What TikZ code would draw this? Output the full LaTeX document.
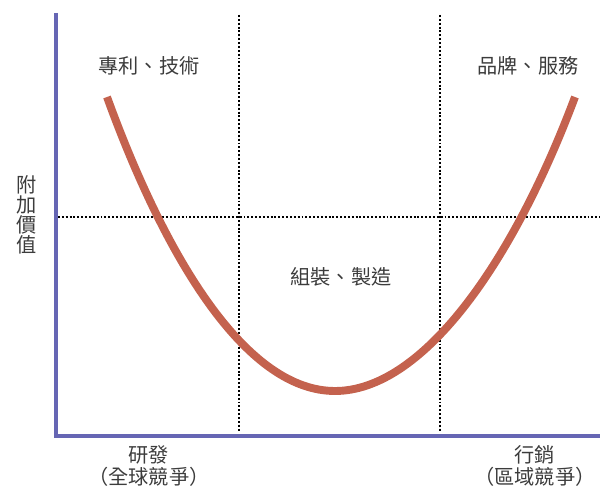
\documentclass[tikz,border=0pt]{standalone}
\usepackage{fontspec}
\usepackage{xcolor}
\usepackage{tikz}
\usetikzlibrary{positioning,calc}
\newfontfamily\cjk{Noto Sans CJK TC}
\definecolor{axisblue}{RGB}{102,102,180}
\definecolor{curvered}{RGB}{196,98,78}
\definecolor{textgray}{RGB}{60,60,60}

\begin{document}
\begin{tikzpicture}[x=0.02cm, y=-0.02cm,
		axis/.style={line width=2.3pt, draw=axisblue},
		divider/.style={line width=1.2pt, dash pattern=on 1.1pt off 1.1pt},
		lbl/.style={text=textgray, font=\cjk\fontsize{11.5}{13}\selectfont, inner sep=0pt, align=center}]
		\useasboundingbox (0,0) rectangle (600,490);

		\coordinate (top) at (56,13);
		\coordinate (origin) at (56,436);
		\coordinate (right) at (600,436);
		\coordinate (l1) at (239,15);
		\coordinate (l2) at (239,432);
		\coordinate (r1) at (440,15);
		\coordinate (r2) at (440,432);
		\coordinate (h1) at (58,217);
		\coordinate (h2) at (600,217);

		% dotted guides
		\draw[divider] (l1) -- (l2);
		\draw[divider] (r1) -- (r2);
		\draw[divider] (h1) -- (h2);

		% axes
		\draw[axis] (top) -- (origin) -- (right);

		% smile curve
		\coordinate (start) at (107,97);
		\coordinate (bottom) at (335,391);
		\coordinate (end) at (575,97);
		\draw[line width=4.5pt, draw=curvered]
			(start) .. controls (170,270) and (250,391) .. (bottom)
			.. controls (420,391) and (510,270) .. (end);

		\node[lbl] (rd) at (149,66) {專利、技術};
		\node[lbl] (brand) at (528,66) {品牌、服務};
		\node[lbl] (make) at (341,277) {組裝、製造};
		\node[lbl, font=\cjk\fontsize{11.5}{11.3}\selectfont] (value) at (27,215) {附\\加\\價\\值};
		\node[lbl] (dev) at (149,466) {研發\\（全球競爭）};
		\node[lbl] (sales) at (535,466) {行銷\\（區域競爭）};
	\end{tikzpicture}
\end{document}
